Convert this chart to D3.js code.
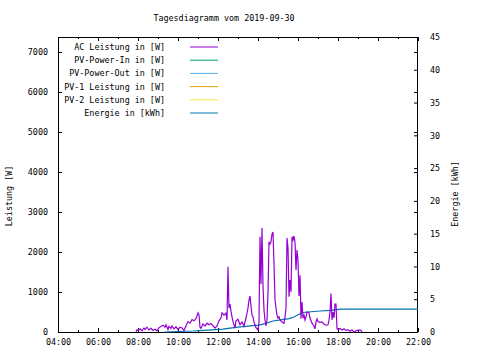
<!DOCTYPE html>
<html><head><meta charset="utf-8">
<script src="https://cdn.jsdelivr.net/npm/d3@7"></script>
<style>
html,body{margin:0;padding:0;background:#fff;}
text{font-family:"DejaVu Sans Mono",monospace;font-size:8.4px;fill:#000;}
</style></head>
<body><svg id="c" width="480" height="360"></svg>
<script>
const title = "Tagesdiagramm vom 2019-09-30";
const seriesNames = ["AC Leistung in [W]","PV-Power-In in [W]","PV-Power-Out in [W]","PV-1 Leistung in [W]","PV-2 Leistung in [W]","Energie in [kWh]"];
const seriesColors = ["#9400d3","#009e73","#56b4e9","#e69f00","#f0e442","#0072b2"];
const xTickLabels = ["04:00","06:00","08:00","10:00","12:00","14:00","16:00","18:00","20:00","22:00"];
const yTicks = [0,1000,2000,3000,4000,5000,6000,7000];
const y2Ticks = [0,5,10,15,20,25,30,35,40,45];

const acTimes = ["07:54","07:57","08:00","08:06","08:12","08:18","08:21","08:27","08:33","08:39","08:45","08:51","08:57","09:03","09:09","09:15","09:21","09:24","09:30","09:33","09:39","09:42","09:48","09:54","10:00","10:06","10:12","10:18","10:24","10:30","10:36","10:42","10:48","10:54","11:00","11:03","11:06","11:09","11:15","11:21","11:27","11:33","11:39","11:45","11:51","11:57","12:03","12:09","12:12","12:18","12:24","12:27","12:30","12:33","12:36","12:39","12:42","12:45","12:51","12:54","13:00","13:06","13:12","13:18","13:24","13:30","13:33","13:36","13:39","13:42","13:45","13:48","13:54","14:00","14:03","14:06","14:09","14:12","14:15","14:18","14:21","14:24","14:27","14:30","14:33","14:36","14:39","14:42","14:45","14:48","14:51","14:54","14:57","15:00","15:03","15:06","15:12","15:18","15:21","15:24","15:27","15:30","15:33","15:36","15:39","15:42","15:45","15:48","15:51","15:54","15:57","16:00","16:03","16:06","16:09","16:12","16:15","16:18","16:21","16:24","16:27","16:33","16:36","16:42","16:48","16:51","16:54","16:57","17:00","17:06","17:12","17:18","17:24","17:30","17:33","17:36","17:39","17:42","17:45","17:48","17:51","17:54","17:57","18:00","18:06","18:12","18:18","18:24","18:30","18:36","18:42","18:48","18:57","19:03","19:09","19:12"];
const acValues = [0,60,40,80,30,100,60,120,50,90,40,70,30,110,140,170,120,180,60,140,90,150,80,130,60,120,100,40,150,260,220,310,280,340,480,420,120,90,200,150,220,180,210,160,100,150,280,350,480,420,470,300,1630,600,700,520,380,260,100,280,320,180,250,150,350,600,800,900,650,420,380,250,110,50,250,2380,1200,2600,1150,550,300,150,300,1000,2250,2200,2250,2450,2500,1700,800,600,420,350,380,300,250,220,380,600,2350,2100,880,1300,1000,2380,2300,2400,2250,1550,2050,1800,900,1420,330,750,350,420,300,380,500,480,350,220,150,80,250,330,260,240,250,200,170,180,300,500,960,300,500,350,700,700,80,60,90,50,80,40,60,20,50,0,40,50,40,0];

const enTimes = ["09:21","10:45","11:30","12:15","12:36","13:00","13:30","13:51","14:03","14:21","14:36","14:45","15:12","15:33","15:48","15:57","16:06","16:09","16:30","17:06","17:39","18:09","22:00"];
const enValues = [0,0.15,0.3,0.45,0.6,0.75,0.9,1.0,1.05,1.27,1.53,1.68,1.88,2.03,2.29,2.55,2.79,2.94,3.05,3.2,3.3,3.5,3.5];

const hrs = s => { const [h,m] = s.split(":").map(Number); return h + m/60; };

const svg = d3.select("#c");
const L = 58, R = 418, T = 37, B = 332;
const x = d3.scaleLinear().domain([4,22]).range([L,R]);
const y = d3.scaleLinear().domain([0,7375]).range([B,T]);
const y2 = d3.scaleLinear().domain([0,45]).range([B,T]);

svg.append("text").attr("x",224).attr("y",21).attr("text-anchor","middle").text(title);

function styleAxis(g){
  g.select(".domain").remove();
  g.selectAll("text").attr("font-family",null).attr("font-size",null).style("font-family","DejaVu Sans Mono, monospace").style("font-size","8.4px").attr("fill","#000");
  g.selectAll("line").attr("stroke","#000");
  g.attr("font-family",null).attr("font-size",null);
}

const fmtH = h => String(h).padStart(2,"0") + ":00";
// bottom axis
const xMajor = xTickLabels.map(hrs);
svg.append("g").attr("transform",`translate(0,${B})`)
  .call(d3.axisBottom(x).tickValues(xMajor).tickFormat(d => fmtH(d)).tickSizeInner(-4).tickSizeOuter(0).tickPadding(7))
  .call(styleAxis);
const xMinor = d3.range(5,22,2);
svg.append("g").attr("transform",`translate(0,${B})`)
  .call(d3.axisBottom(x).tickValues(xMinor).tickFormat("").tickSizeInner(-2).tickSizeOuter(0))
  .call(styleAxis);
// top mirror
svg.append("g").attr("transform",`translate(0,${T})`)
  .call(d3.axisTop(x).tickValues(xMajor).tickFormat("").tickSizeInner(-4).tickSizeOuter(0))
  .call(styleAxis);
svg.append("g").attr("transform",`translate(0,${T})`)
  .call(d3.axisTop(x).tickValues(xMinor).tickFormat("").tickSizeInner(-2).tickSizeOuter(0))
  .call(styleAxis);
// left
svg.append("g").attr("transform",`translate(${L},0)`)
  .call(d3.axisLeft(y).tickValues(yTicks).tickFormat(d3.format("d")).tickSizeInner(-4).tickSizeOuter(0).tickPadding(10))
  .call(styleAxis);
// right y2
svg.append("g").attr("transform",`translate(${R},0)`)
  .call(d3.axisRight(y2).tickValues(y2Ticks).tickFormat(d3.format("d")).tickSizeInner(-4).tickSizeOuter(0).tickPadding(12))
  .call(styleAxis);
// mirror y ticks on right
svg.append("g").attr("transform",`translate(${R},0)`)
  .call(d3.axisRight(y).tickValues(yTicks.slice(1)).tickFormat("").tickSizeInner(-4).tickSizeOuter(0))
  .call(styleAxis);

svg.append("rect").attr("x",L+0.5).attr("y",T+0.5).attr("width",R-L-1).attr("height",B-T)
  .attr("fill","none").attr("stroke","#000").attr("stroke-width",1);

// axis titles
svg.append("text").attr("transform",`translate(12,196) rotate(-90)`).attr("text-anchor","middle").text("Leistung [W]");
svg.append("text").attr("transform",`translate(458,194) rotate(-90)`).attr("text-anchor","middle").text("Energie [kWh]");

// data lines
const acData = acTimes.map((t,i)=>({t:hrs(t), v:acValues[i]}));
const enData = enTimes.map((t,i)=>({t:hrs(t), v:enValues[i]}));
svg.append("path").datum(enData)
  .attr("d", d3.line().x(d=>x(d.t)).y(d=>y2(d.v)))
  .attr("fill","none").attr("stroke",seriesColors[5]).attr("stroke-width",1.2);
svg.append("path").datum(acData)
  .attr("d", d3.line().x(d=>x(d.t)).y(d=>y(d.v)))
  .attr("fill","none").attr("stroke",seriesColors[0]).attr("stroke-width",1.2);

// legend
const lg = svg.append("g");
seriesNames.forEach((n,i)=>{
  const yy = 47 + i*13.2;
  lg.append("text").attr("x",165).attr("y",yy+3).attr("text-anchor","end").text(n);
  lg.append("line").attr("x1",190).attr("x2",218).attr("y1",yy).attr("y2",yy)
    .attr("stroke",seriesColors[i]).attr("stroke-width",1);
});
</script></body></html>
